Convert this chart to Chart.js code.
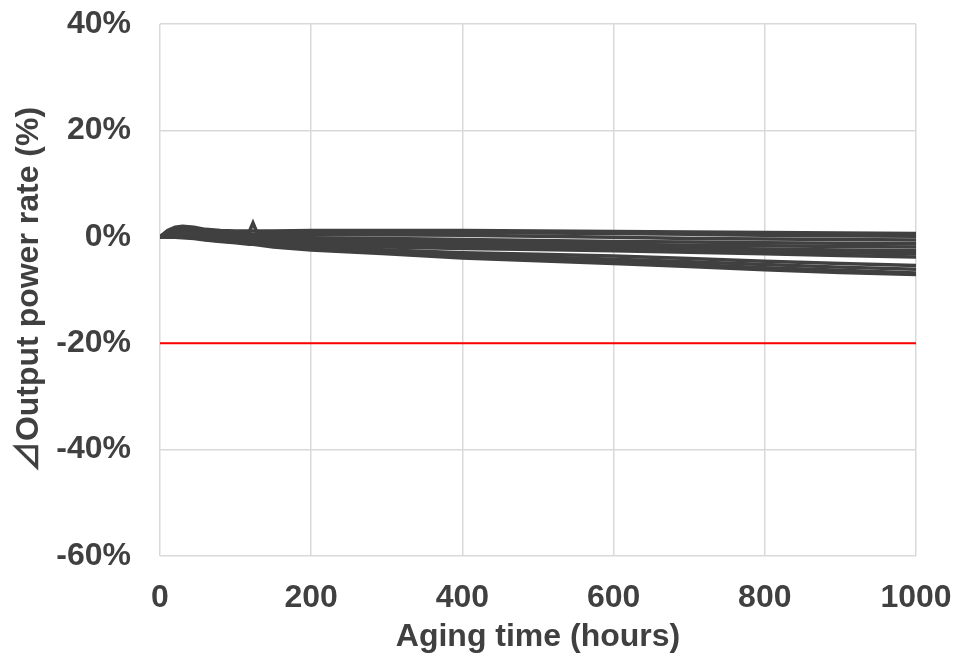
<!DOCTYPE html>
<html>
<head>
<meta charset="utf-8">
<script src="https://cdn.jsdelivr.net/npm/chart.js@4"></script>
<style>
  html, body { margin: 0; padding: 0; background: #fff; }
  #wrap { width: 953px; height: 656px; }
</style>
</head>
<body>
<div id="wrap"><canvas id="chart"></canvas></div>
<script>
// aging hours where each cell was sampled
const hours = [0, 10, 20, 30, 45, 60, 80, 100, 118, 123, 128, 150, 200, 300, 400, 500, 600, 700, 800, 900, 1000]

// output power change (%) per cell
const cellA = [0, 1.2, 1.8, 2.0, 1.8, 1.4, 1.2, 1.1, 1.1, 1.1, 1.1, 1.1, 1.2, 1.2, 1.2, 1.1, 1.0, 0.9, 0.8, 0.7, 0.6]
const cellB = [0, 1.0, 1.5, 1.7, 1.5, 1.1, 0.9, 0.8, 0.9, 2.6, 0.9, 0.9, 0.9, 0.9, 0.8, 0.7, 0.6, 0.5, 0.3, 0.2, 0.1]
const cellC = [0, 0.8, 1.2, 1.4, 1.2, 0.8, 0.6, 0.5, 0.5, 0.5, 0.5, 0.5, 0.5, 0.4, 0.3, 0.1, -0.1, -0.3, -0.4, -0.5, -0.6]
const cellD = [0, 0.6, 0.9, 1.0, 0.8, 0.5, 0.2, 0.1, 0.0, 0.0, 0.0, -0.1, -0.2, -0.3, -0.5, -0.7, -0.9, -1.0, -1.1, -1.2, -1.3]
const cellE = [0, 0.4, 0.6, 0.7, 0.5, 0.2, 0.0, -0.2, -0.3, -0.3, -0.3, -0.4, -0.6, -0.8, -1.0, -1.2, -1.4, -1.6, -1.7, -1.8, -1.9]
const cellF = [0, 0.3, 0.5, 0.5, 0.3, 0.0, -0.2, -0.4, -0.5, -0.5, -0.5, -0.7, -0.9, -1.2, -1.5, -1.7, -1.9, -2.1, -2.3, -2.5, -2.6]
const cellG = [0, 0.2, 0.4, 0.4, 0.2, -0.1, -0.4, -0.6, -0.8, -0.8, -0.8, -1.0, -1.3, -1.6, -1.9, -2.2, -2.4, -2.6, -2.8, -3.0, -3.2]
const cellH = [0, 0.2, 0.3, 0.3, 0.1, -0.2, -0.5, -0.7, -0.9, -0.9, -0.9, -1.1, -1.5, -1.9, -2.2, -2.4, -2.6, -2.9, -3.2, -3.5, -3.8]
const cellI = [0, 0.1, 0.2, 0.2, 0.0, -0.3, -0.6, -0.8, -1.0, -1.0, -1.1, -1.3, -1.8, -2.5, -3.0, -3.3, -3.6, -4.1, -4.6, -5.0, -5.4]
const cellJ = [0, 0.1, 0.1, 0.1, -0.1, -0.4, -0.7, -0.9, -1.1, -1.2, -1.2, -1.5, -2.1, -2.8, -3.4, -3.8, -4.2, -4.7, -5.2, -5.7, -6.1]
const cellK = [0, 0.0, 0.0, 0.0, -0.2, -0.5, -0.8, -1.0, -1.2, -1.3, -1.3, -1.7, -2.3, -3.0, -3.7, -4.2, -4.7, -5.2, -5.8, -6.3, -6.8]
const cellL = [0, -0.1, -0.1, -0.2, -0.3, -0.6, -0.9, -1.1, -1.4, -1.4, -1.5, -1.9, -2.5, -3.2, -4.0, -4.5, -5.0, -5.6, -6.2, -6.7, -7.1]
const cells = [cellA, cellB, cellC, cellD, cellE, cellF, cellG, cellH, cellI, cellJ, cellK, cellL]

// failure criterion
const limitHours = [0, 1000]
const limitValues = [-20, -20]

const xTicks = [0, 200, 400, 600, 800, 1000]
const yTicks = [-60, -40, -20, 0, 20, 40]

const ink = "#404040"
const font = { family: "Liberation Sans, Arial, 'Noto Sans CJK JP', sans-serif", size: 32, weight: "bold" }

const toPoints = (xs, ys) => xs.map((x, i) => ({ x, y: ys[i] }))

const datasets = cells.map((vals) => ({
  data: toPoints(hours, vals),
  borderColor: ink,
  borderWidth: 3.5,
  pointRadius: 0,
}))

datasets.push({
  data: toPoints(limitHours, limitValues),
  borderColor: "#ff0000",
  borderWidth: 2,
  pointRadius: 0,
})

// pin the plot box to where the original sits
const fitX = (scale) => {
  scale.height = 100
  scale.paddingLeft = 0
  scale.paddingRight = 0
}
const fitY = (scale) => {
  scale.width = 160
  scale.paddingTop = 0
  scale.paddingBottom = 0
}

new Chart(document.getElementById("chart"), {
  type: "line",
  data: { datasets },
  options: {
    responsive: true,
    maintainAspectRatio: false,
    animation: false,
    events: [],
    layout: { padding: { top: 24, right: 37, left: 0, bottom: 0 } },
    plugins: { legend: { display: false }, tooltip: { enabled: false } },
    scales: {
      x: {
        type: "linear",
        min: 0,
        max: 1000,
        afterBuildTicks: (axis) => { axis.ticks = xTicks.map((v) => ({ value: v })) },
        afterFit: fitX,
        ticks: { font, color: ink, padding: 23, maxRotation: 0, callback: (v) => String(v) },
        grid: { color: "#d9d9d9", lineWidth: 1.5, drawTicks: false },
        border: { display: false },
        title: { display: true, text: "Aging time (hours)", font, color: ink, padding: { top: 0, bottom: 0 } },
      },
      y: {
        min: -60,
        max: 40,
        afterBuildTicks: (axis) => { axis.ticks = yTicks.map((v) => ({ value: v })) },
        afterFit: fitY,
        ticks: { font, color: ink, padding: 29, callback: (v) => v + "%" },
        grid: { color: "#d9d9d9", lineWidth: 1.5, drawTicks: false },
        border: { display: false },
        title: { display: true, text: "⊿Output power rate (%)", font, color: ink, padding: { top: 10, bottom: 0 } },
      },
    },
  },
})
</script>
</body>
</html>
